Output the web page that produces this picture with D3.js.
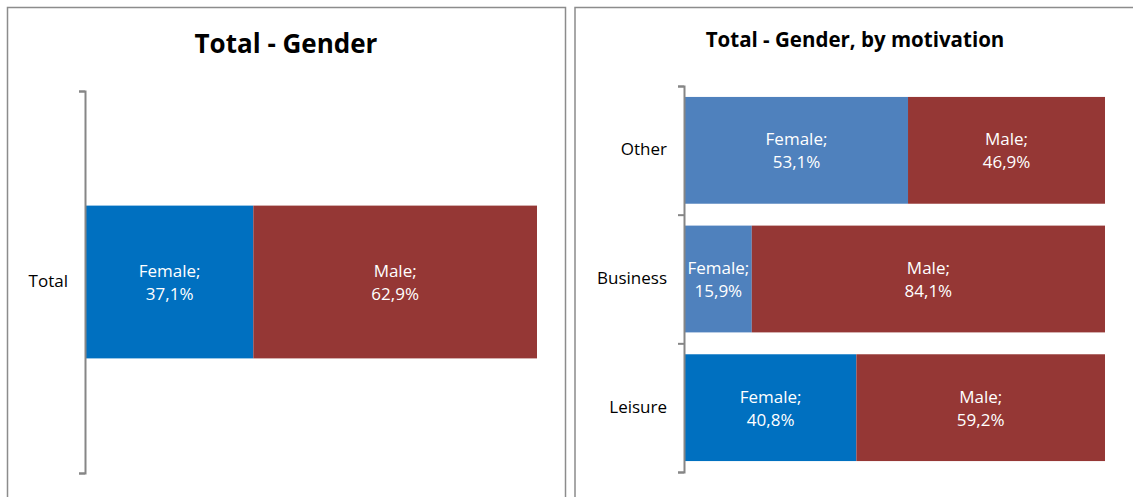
<!DOCTYPE html>
<html>
<head>
<meta charset="utf-8">
<script src="https://cdn.jsdelivr.net/npm/d3@7"></script>
<style>
  body { margin: 0; background: #fff; }
  svg { display: block; font-family: "Open Sans", "Noto Sans", sans-serif; }
</style>
</head>
<body>
<svg id="chart" width="1133" height="497"></svg>
<script>
// Data
const totalCats = ["Total"];
const totalFemale = [37.1];
const totalMale = [62.9];

const motivCats = ["Other", "Business", "Leisure"];
const motivFemale = [53.1, 15.9, 40.8];
const motivMale = [46.9, 84.1, 59.2];

const fmt = v => v.toFixed(1).replace(".", ",") + "%";

const svg = d3.select("#chart");

// panel frames
svg.append("rect").attr("x", 7.5).attr("y", 7.5).attr("width", 558).attr("height", 500)
    .attr("fill", "none").attr("stroke", "#8c8c8c").attr("stroke-width", 1.5);
svg.append("rect").attr("x", 575).attr("y", 7.5).attr("width", 570).attr("height", 500)
    .attr("fill", "none").attr("stroke", "#8c8c8c").attr("stroke-width", 1.5);

// draws one stacked horizontal bar panel
function panel(cfg) {
    const g = svg.append("g");
    const x = d3.scaleLinear().domain([0, 100]).range([cfg.x0, cfg.x1]);
    const y = d3.scaleBand().domain(cfg.cats).range([cfg.y0, cfg.y1]).paddingInner(cfg.pad).paddingOuter(cfg.pad / 2);

    g.append("text").attr("x", cfg.titleX).attr("y", cfg.titleY)
        .attr("text-anchor", "middle").attr("font-weight", "bold").attr("font-size", cfg.titleSize)
        .attr("fill", "#000").text(cfg.title);

    const rows = cfg.cats.map((c, i) => ({ cat: c, f: cfg.female[i], m: cfg.male[i], fc: cfg.femaleColors[i] }));

    const row = g.selectAll("g.row").data(rows).join("g").attr("class", "row");
    row.append("rect")
        .attr("x", x(0)).attr("y", d => y(d.cat))
        .attr("width", d => x(d.f) - x(0)).attr("height", y.bandwidth())
        .attr("fill", d => d.fc);
    row.append("rect")
        .attr("x", d => x(d.f)).attr("y", d => y(d.cat))
        .attr("width", d => x(d.f + d.m) - x(d.f)).attr("height", y.bandwidth())
        .attr("fill", "#953735");

    const lab = (sel, name, cx, v) => {
        const t = sel.append("text").attr("text-anchor", "middle").attr("fill", "#fff")
            .attr("font-size", 17);
        t.append("tspan").attr("x", cx).attr("y", d => y(d.cat) + y.bandwidth() / 2 - 5).text(name + ";");
        t.append("tspan").attr("x", cx).attr("y", d => y(d.cat) + y.bandwidth() / 2 + 18).text(v);
    };
    lab(row, "Female", d => (x(0) + x(d.f)) / 2, d => fmt(d.f));
    lab(row, "Male", d => (x(d.f) + x(100)) / 2, d => fmt(d.m));

    // category axis
    const axis = d3.axisLeft(d3.scaleLinear().domain([0, cfg.cats.length]).range([cfg.y0, cfg.y1]))
        .ticks(cfg.cats.length).tickSize(6).tickFormat("");
    const ag = g.append("g").attr("transform", `translate(${cfg.x0 - 1},0)`).call(axis);
    ag.selectAll("path, line").attr("stroke", "#868686").attr("stroke-width", 2);

    g.selectAll("text.cat").data(cfg.cats).join("text").attr("class", "cat")
        .attr("x", cfg.x0 - 18).attr("y", d => y(d) + y.bandwidth() / 2 + 5)
        .attr("text-anchor", "end").attr("font-size", 17).attr("fill", "#000").text(d => d);
}

panel({
    title: "Total - Gender", titleX: 286, titleY: 53, titleSize: 26,
    cats: totalCats, female: totalFemale, male: totalMale, femaleColors: ["#0070c0"],
    x0: 86, x1: 537, y0: 91, y1: 473, pad: 0.6
});

panel({
    title: "Total - Gender, by motivation", titleX: 855, titleY: 47, titleSize: 20.5,
    cats: motivCats, female: motivFemale, male: motivMale,
    femaleColors: ["#4f81bd", "#4f81bd", "#0070c0"],
    x0: 685, x1: 1105, y0: 86, y1: 472, pad: 0.17
});
</script>
</body>
</html>
